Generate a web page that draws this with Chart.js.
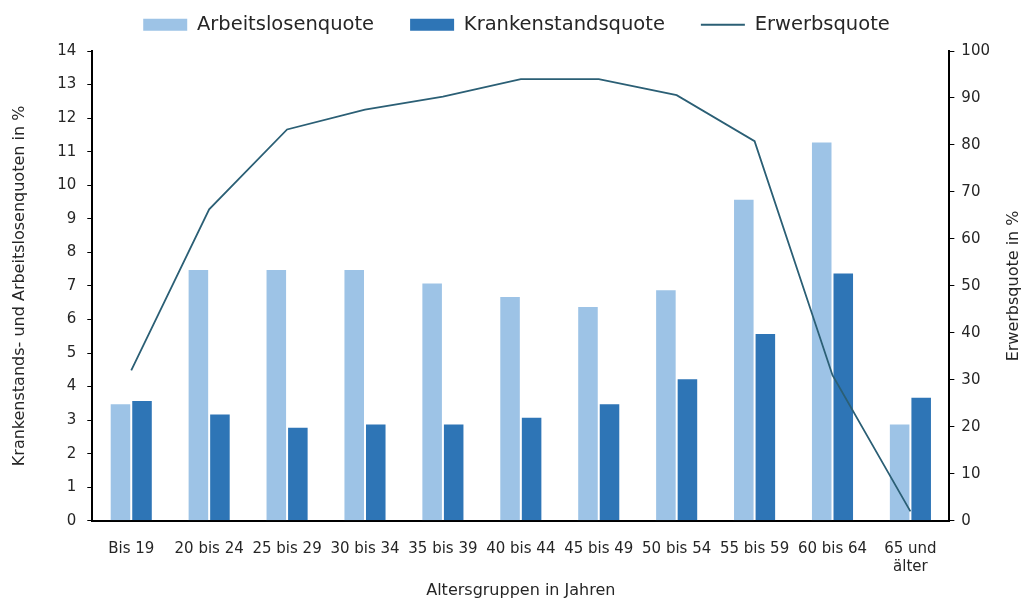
<!DOCTYPE html>
<html lang="de">
<head>
    <meta charset="UTF-8" />
    <title>Quoten nach Altersgruppen</title>
    <script src="https://cdn.jsdelivr.net/npm/chart.js"></script>
    <style>
        * { margin: 0; padding: 0; box-sizing: border-box; }
        body { background: #ffffff; }
        .chart-container { width: 1025px; height: 599px; position: relative; }
    </style>
</head>
<body>
    <div class="chart-container">
        <canvas id="quotenChart"></canvas>
    </div>

    <script>
        const altersgruppen = ["Bis 19", "20 bis 24", "25 bis 29", "30 bis 34", "35 bis 39", "40 bis 44",
            "45 bis 49", "50 bis 54", "55 bis 59", "60 bis 64", ["65 und", "älter"]];
        const arbeitslosenquote = [3.5, 7.5, 7.5, 7.5, 7.1, 6.7, 6.4, 6.9, 9.6, 11.3, 2.9];
        const krankenstandsquote = [3.6, 3.2, 2.8, 2.9, 2.9, 3.1, 3.5, 4.25, 5.6, 7.4, 3.7];
        const erwerbsquote = [32, 66.3, 83.3, 87.5, 90.3, 94, 94, 90.6, 80.8, 31, 2];
        const linksTicks = [0, 14, 1];
        const rechtsTicks = [0, 100, 10];

        const FONT = "'DejaVu Sans', sans-serif";
        const TEXT = "#262626";

        // right axis title reads bottom-to-top like the left one
        const rightTitlePlugin = {
            id: 'rightTitle',
            afterDraw(chart) {
                const { ctx, chartArea } = chart;
                ctx.save();
                ctx.font = "16px " + FONT;
                ctx.fillStyle = TEXT;
                ctx.textAlign = "center";
                ctx.textBaseline = "middle";
                ctx.translate(1014, (chartArea.top + chartArea.bottom) / 2);
                ctx.rotate(-Math.PI / 2);
                ctx.fillText("Erwerbsquote in %", 0, 0);
                ctx.restore();
            }
        };

        // legend: keep wide gaps between items but a short box height, nudge it right
        const legendTweakPlugin = {
            id: 'legendTweak',
            beforeInit(chart) {
                const legend = chart.legend;
                if (!legend) return;
                const fit = legend.fit;
                legend.fit = function () {
                    fit.call(this);
                    this.height = 72;
                };
            },
            afterLayout(chart) {
                if (!chart.legend) return;
                chart.legend.left += 15;
                chart.legend.right += 15;
            }
        };

        const ctx = document.getElementById("quotenChart").getContext("2d");
        new Chart(ctx, {
            data: {
                labels: altersgruppen,
                datasets: [
                    {
                        type: "bar",
                        label: "Arbeitslosenquote",
                        data: arbeitslosenquote,
                        backgroundColor: "#9dc3e6",
                        borderColor: "rgba(255,255,255,0.45)",
                        borderWidth: 1,
                        yAxisID: "y",
                        categoryPercentage: 0.553,
                        barPercentage: 1
                    },
                    {
                        type: "bar",
                        label: "Krankenstandsquote",
                        data: krankenstandsquote,
                        backgroundColor: "#2e75b6",
                        borderColor: "rgba(255,255,255,0.35)",
                        borderWidth: 1,
                        yAxisID: "y",
                        categoryPercentage: 0.553,
                        barPercentage: 1
                    },
                    {
                        type: "line",
                        label: "Erwerbsquote",
                        data: erwerbsquote,
                        borderColor: "#2b5f75",
                        backgroundColor: "#2b5f75",
                        borderWidth: 1.8,
                        pointRadius: 0,
                        tension: 0,
                        yAxisID: "y1",
                        order: -1
                    }
                ]
            },
            options: {
                responsive: true,
                maintainAspectRatio: false,
                animation: false,
                layout: { padding: { top: -21, right: 28, left: 6, bottom: -5 } },
                scales: {
                    x: {
                        grid: { display: false },
                        border: { display: true, color: "#000", width: 2 },
                        ticks: {
                            color: TEXT, font: { family: FONT, size: 15 },
                            maxRotation: 0, autoSkip: false, padding: 11
                        },
                        title: {
                            display: true, text: "Altersgruppen in Jahren",
                            color: TEXT, font: { family: FONT, size: 16 }, padding: { top: -6 }
                        }
                    },
                    y: {
                        position: "left",
                        min: linksTicks[0], max: linksTicks[1],
                        grid: { drawOnChartArea: false, drawTicks: true, tickLength: 5, color: "#000" },
                        border: { display: true, color: "#000", width: 2 },
                        ticks: { stepSize: linksTicks[2], color: TEXT, font: { family: FONT, size: 15 }, padding: 11 },
                        title: {
                            display: true, text: "Krankenstands- und Arbeitslosenquoten in %",
                            color: TEXT, font: { family: FONT, size: 16 }, padding: { bottom: 17 }
                        }
                    },
                    y1: {
                        position: "right",
                        min: rechtsTicks[0], max: rechtsTicks[1],
                        grid: { drawOnChartArea: false, drawTicks: true, tickLength: 5, color: "#000" },
                        border: { display: true, color: "#000", width: 2 },
                        ticks: { stepSize: rechtsTicks[2], color: TEXT, font: { family: FONT, size: 15 }, padding: 7 }
                    }
                },
                plugins: {
                    tooltip: { enabled: false },
                    legend: {
                        position: "top",
                        labels: {
                            usePointStyle: true,
                            pointStyleWidth: 44,
                            boxHeight: 12,
                            padding: 36,
                            color: TEXT,
                            font: { family: FONT, size: 19.5 },
                            generateLabels(chart) {
                                return chart.data.datasets.map((ds, i) => ({
                                    text: ds.label,
                                    datasetIndex: i,
                                    fillStyle: ds.backgroundColor,
                                    strokeStyle: ds.type === "line" ? ds.borderColor : ds.backgroundColor,
                                    lineWidth: ds.type === "line" ? 1.8 : 0,
                                    pointStyle: ds.type === "line" ? "line" : "rect",
                                    hidden: false,
                                    fontColor: TEXT
                                }));
                            }
                        }
                    }
                }
            },
            plugins: [rightTitlePlugin, legendTweakPlugin]
        });
    </script>
</body>
</html>
